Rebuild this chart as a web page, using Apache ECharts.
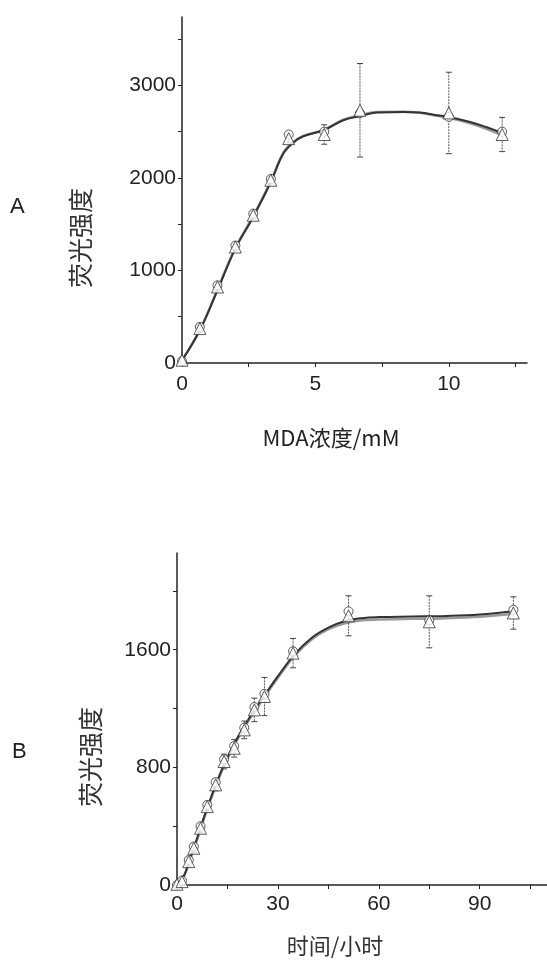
<!DOCTYPE html>
<html>
<head>
<meta charset="utf-8">
<script src="https://cdn.jsdelivr.net/npm/echarts@6/dist/echarts.min.js"></script>
<style>
	html, body { margin: 0; padding: 0; background: #fff; }
	#container { width: 547px; height: 965px; }
</style>
</head>
<body>
<div id="container"></div>
<script>
// A: MDA 浓度 (mM) vs 荧光强度
var concA = [0, 0.67, 1.33, 2, 2.67, 3.33, 4, 5.33, 6.67, 10, 12];
var triA = [30, 372, 822, 1254, 1597, 1975, 2425, 2470, 2732, 2703, 2470];
var circA = [20, 390, 840, 1270, 1615, 1990, 2470, 2500, 2700, 2660, 2500];
var errA = [0, 40, 40, 40, 40, 40, 40, 105, 505, 440, 185];
var fitAx = [0, 0.67, 1.33, 2, 2.67, 3.33, 3.8, 4.2, 4.55, 5.3, 6.05, 6.65, 7.3, 8.3, 8.9, 9.55, 10, 10.8, 11.4, 12];
var fitA1 = [29, 354, 786, 1236, 1579, 1957, 2264, 2389, 2451, 2516, 2624, 2667, 2707, 2714, 2707, 2678, 2660, 2606, 2551, 2486];
var fitA2 = [29, 360, 795, 1245, 1590, 1965, 2275, 2395, 2455, 2520, 2630, 2675, 2712, 2716, 2705, 2672, 2650, 2590, 2530, 2460];
var ticksAx = [0, 5, 10];
var ticksAy = [0, 1000, 2000, 3000];

// B: 时间 (小时) vs 荧光强度
var timeB = [0, 1.5, 3.5, 5, 7, 9, 11.5, 14, 17, 20, 23, 26, 34.5, 51, 75, 100];
var triB = [5, 23, 159, 250, 386, 533, 681, 840, 930, 1055, 1191, 1282, 1577, 1831, 1790, 1850];
var circB = [0, 30, 170, 262, 400, 545, 700, 855, 945, 1070, 1210, 1300, 1590, 1861, 1800, 1872];
var errB = [10, 20, 30, 30, 30, 30, 40, 50, 60, 60, 80, 130, 100, 136, 177, 110];
var fitBx = [0, 2, 4, 6, 8, 10, 12, 14, 17, 20, 23, 26, 30, 35, 40, 45, 50, 55, 60, 70, 80, 90, 100];
var fitB1 = [0, 60, 190, 320, 460, 590, 710, 820, 960, 1080, 1190, 1290, 1420, 1570, 1680, 1750, 1795, 1815, 1822, 1826, 1830, 1840, 1862];
var fitB2 = [0, 55, 180, 310, 450, 580, 700, 810, 950, 1070, 1180, 1280, 1410, 1560, 1670, 1740, 1780, 1800, 1805, 1810, 1815, 1825, 1845];
var ticksBx = [0, 30, 60, 90];
var ticksBy = [0, 800, 1600];

var numFont = '"Liberation Sans", Arial, sans-serif';
var cjkFont = '"Noto Sans CJK SC", sans-serif';

function zip( xs, ys ) {
	return xs.map( function( x, i ) { return [ x, ys[i] ]; } );
}
function errData( xs, ys, es ) {
	return xs.map( function( x, i ) { return [ x, ys[i] - es[i], ys[i] + es[i] ]; } );
}
function showOnly( list ) {
	return function( v ) {
		return list.indexOf( Math.round( v * 100 ) / 100 ) >= 0 ? String( v ) : '';
	};
}

function renderErr( params, api ) {
	var x = api.value( 0 );
	var top = api.coord( [ x, api.value( 2 ) ] );
	var bot = api.coord( [ x, api.value( 1 ) ] );
	var st = { stroke: '#555', lineWidth: 1, lineDash: [ 2, 1 ] };
	var cap = { stroke: '#444', lineWidth: 1 };
	return {
		type: 'group',
		children: [
			{ type: 'line', shape: { x1: top[0], y1: top[1], x2: bot[0], y2: bot[1] }, style: st },
			{ type: 'line', shape: { x1: top[0] - 3, y1: top[1], x2: top[0] + 3, y2: top[1] }, style: cap },
			{ type: 'line', shape: { x1: bot[0] - 3, y1: bot[1], x2: bot[0] + 3, y2: bot[1] }, style: cap }
		]
	};
}

function valueAxis( idx, min, max, interval, shown, margin ) {
	return {
		type: 'value',
		gridIndex: idx,
		min: min,
		max: max,
		interval: interval,
		splitLine: { show: false },
		axisLine: { show: true, onZero: false, lineStyle: { color: '#222', width: 1.5 } },
		axisTick: { show: true, length: 4, lineStyle: { color: '#222', width: 1 } },
		axisLabel: {
			color: '#222',
			fontFamily: numFont,
			fontSize: 21,
			margin: margin,
			showMaxLabel: false,
			formatter: showOnly( shown )
		}
	};
}

var dom = document.getElementById( 'container' );
var myChart = echarts.init( dom, null, { renderer: 'canvas' } );

var lineStyleBlack = { color: '#333', width: 2 };
var lineStyleGray = { color: '#999', width: 2.5 };
var markStyle = { color: '#fff', borderColor: '#333', borderWidth: 1 };

var option = {
	backgroundColor: '#fff',
	animation: false,
	grid: [
		{ left: 182, top: 17, width: 345, height: 346 },
		{ left: 177, top: 553, width: 370, height: 332 }
	],
	xAxis: [
		valueAxis( 0, 0, 12.93, 2.5, ticksAx, 11 ),
		valueAxis( 1, 0, 110, 15, ticksBx, 9 )
	],
	yAxis: [
		valueAxis( 0, 0, 3740, 500, ticksAy, 6 ),
		valueAxis( 1, 0, 2258, 400, ticksBy, 6 )
	],
	graphic: [
		{ type: 'text', left: 10, top: 196, style: { text: 'A', font: '22px ' + numFont, fill: '#222' } },
		{ type: 'text', left: 12, top: 741, style: { text: 'B', font: '22px ' + numFont, fill: '#222' } },
		{ type: 'text', x: 80, y: 238, rotation: Math.PI / 2, style: { text: '荧光强度', font: '25px ' + cjkFont, fill: '#333', align: 'center', verticalAlign: 'middle' } },
		{ type: 'text', x: 90, y: 757, rotation: Math.PI / 2, style: { text: '荧光强度', font: '25px ' + cjkFont, fill: '#333', align: 'center', verticalAlign: 'middle' } },
		{ type: 'text', x: 331, y: 438, style: { text: 'MDA浓度/mM', font: '22px ' + cjkFont, fill: '#222', align: 'center', verticalAlign: 'middle' } },
		{ type: 'text', x: 335, y: 946, style: { text: '时间/小时', font: '22px ' + cjkFont, fill: '#333', align: 'center', verticalAlign: 'middle' } }
	],
	series: [
		{ type: 'line', xAxisIndex: 0, yAxisIndex: 0, data: zip( fitAx, fitA2 ), smooth: 0.4, showSymbol: false, lineStyle: lineStyleGray, z: 2 },
		{ type: 'line', xAxisIndex: 0, yAxisIndex: 0, data: zip( fitAx, fitA1 ), smooth: 0.4, showSymbol: false, lineStyle: lineStyleBlack, z: 3 },
		{ type: 'custom', xAxisIndex: 0, yAxisIndex: 0, data: errData( concA, triA, errA ), renderItem: renderErr, z: 4 },
		{ type: 'scatter', xAxisIndex: 0, yAxisIndex: 0, data: zip( concA, circA ), symbol: 'circle', symbolSize: 9, itemStyle: markStyle, z: 5 },
		{ type: 'scatter', xAxisIndex: 0, yAxisIndex: 0, data: zip( concA, triA ), symbol: 'triangle', symbolSize: 12, itemStyle: markStyle, z: 6 },

		{ type: 'line', xAxisIndex: 1, yAxisIndex: 1, data: zip( fitBx, fitB2 ), smooth: 0.4, showSymbol: false, lineStyle: lineStyleGray, z: 2 },
		{ type: 'line', xAxisIndex: 1, yAxisIndex: 1, data: zip( fitBx, fitB1 ), smooth: 0.4, showSymbol: false, lineStyle: lineStyleBlack, z: 3 },
		{ type: 'custom', xAxisIndex: 1, yAxisIndex: 1, data: errData( timeB, triB, errB ), renderItem: renderErr, z: 4 },
		{ type: 'scatter', xAxisIndex: 1, yAxisIndex: 1, data: zip( timeB, circB ), symbol: 'circle', symbolSize: 9, itemStyle: markStyle, z: 5 },
		{ type: 'scatter', xAxisIndex: 1, yAxisIndex: 1, data: zip( timeB, triB ), symbol: 'triangle', symbolSize: 12, itemStyle: markStyle, z: 6 }
	]
};

if ( option && typeof option === "object" ) {
	myChart.setOption( option, true );
}
</script>
</body>
</html>
